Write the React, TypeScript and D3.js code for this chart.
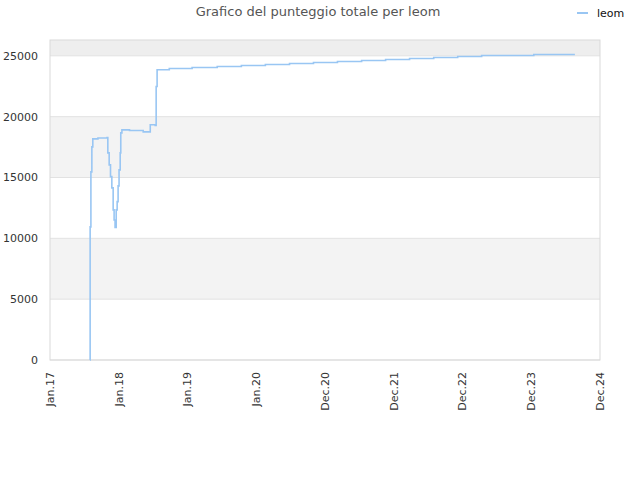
import * as d3 from "d3";

const WIDTH = 640;
const HEIGHT = 480;

const title = "Grafico del punteggio totale per leom";
const seriesName = "leom";

// tick labels of the x axis (evenly spaced between first and last date)
const tickLabels = ["Jan.17", "Jan.18", "Jan.19", "Jan.20", "Dec.20", "Dec.21", "Dec.22", "Dec.23", "Dec.24"];
const yTicks = [0, 5000, 10000, 15000, 20000, 25000];

// score history
const dates = [
  "2017-07-30", "2017-07-31", "2017-08-04", "2017-08-09", "2017-08-14", "2017-09-10",
  "2017-10-28", "2017-11-01", "2017-11-08", "2017-11-15", "2017-11-22", "2017-11-29",
  "2017-12-04", "2017-12-09", "2017-12-15", "2017-12-20", "2017-12-25", "2017-12-30",
  "2018-01-05", "2018-01-08", "2018-01-14", "2018-02-23", "2018-05-06", "2018-06-12",
  "2018-07-08", "2018-07-13", "2018-07-18", "2018-09-20", "2019-01-18", "2019-05-30",
  "2019-10-04", "2020-02-07", "2020-06-13", "2020-10-17", "2021-02-20", "2021-06-27",
  "2021-10-31", "2022-03-06", "2022-07-11", "2022-11-14", "2023-03-20", "2023-12-19",
  "2024-07-22",
];
const scores = [
  0, 10940, 15460, 17520, 18170, 18250,
  18280, 17020, 16040, 15070, 14150, 12340,
  11510, 10900, 12340, 13020, 14310, 15630,
  17020, 18670, 18910, 18860, 18750, 19330,
  19280, 22480, 23850, 23960, 24040, 24120,
  24205, 24290, 24370, 24450, 24535, 24615,
  24700, 24780, 24865, 24945, 25030, 25110,
  25110,
];

const data = dates.map((d, i) => ({ date: new Date(d), value: scores[i] }));

const margin = { top: 40, right: 40, bottom: 120, left: 50 };
const width = WIDTH - margin.left - margin.right;
const height = HEIGHT - margin.top - margin.bottom;

const start = new Date("2017-01-01");
const end = new Date("2024-12-01");

function createD3(el: HTMLDivElement | null) {
  if (!el) return;
  d3.select(el).selectAll("*").remove();

  const x = d3.scaleTime().domain([start, end]).range([0, width]);
  const y = d3.scaleLinear().domain([0, 26300]).range([height, 0]);

  const tickDates = tickLabels.map((_, i) =>
    new Date(+start + ((+end - +start) * i) / (tickLabels.length - 1))
  );

  const root = d3
    .select(el)
    .append("svg")
    .attr("width", WIDTH)
    .attr("height", HEIGHT)
    .style("display", "block")
    .style("font-family", "'DejaVu Sans', sans-serif");

  const svg = root
    .append("g")
    .attr("transform", "translate(" + margin.left + "," + margin.top + ")");

  // alternating bands
  const bands = [...yTicks, y.domain()[1]];
  for (let i = 0; i < bands.length - 1; i++) {
    if (i % 2 === 0) continue;
    svg
      .append("rect")
      .attr("x", 0)
      .attr("width", width)
      .attr("y", y(bands[i + 1]))
      .attr("height", y(bands[i]) - y(bands[i + 1]))
      .attr("fill", i === bands.length - 2 ? "#eeeeee" : "#f3f3f3");
  }

  // grid lines
  svg
    .selectAll(".grid")
    .data(yTicks)
    .join("line")
    .attr("x1", 0)
    .attr("x2", width)
    .attr("y1", (d) => y(d))
    .attr("y2", (d) => y(d))
    .attr("stroke", "#e2e2e2");

  // frame
  svg
    .append("rect")
    .attr("width", width)
    .attr("height", height)
    .attr("fill", "none")
    .attr("stroke", "#d9d9d9");

  // y labels
  svg
    .selectAll(".ylab")
    .data(yTicks)
    .join("text")
    .attr("x", -12)
    .attr("y", (d) => y(d))
    .attr("dy", "0.35em")
    .attr("text-anchor", "end")
    .attr("font-size", 11)
    .attr("fill", "#333")
    .text((d) => d);

  // x labels
  svg
    .selectAll(".xlab")
    .data(tickDates)
    .join("text")
    .attr("transform", (d) => "translate(" + x(d) + "," + (height + 12) + ") rotate(-90)")
    .attr("dy", "0.35em")
    .attr("text-anchor", "end")
    .attr("font-size", 11)
    .attr("fill", "#333")
    .text((_, i) => tickLabels[i]);

  const line = d3
    .line<{ date: Date; value: number }>()
    .x((d) => x(d.date))
    .y((d) => y(d.value))
    .curve(d3.curveStepAfter);

  svg
    .append("path")
    .datum(data)
    .attr("d", line)
    .attr("fill", "none")
    .attr("stroke", "#99c6f3")
    .attr("stroke-width", 1.6);

  // title
  root
    .append("text")
    .attr("x", 318)
    .attr("y", 16)
    .attr("text-anchor", "middle")
    .attr("font-size", 13)
    .attr("fill", "#555")
    .text(title);

  // legend
  root
    .append("line")
    .attr("x1", 577)
    .attr("x2", 588)
    .attr("y1", 13)
    .attr("y2", 13)
    .attr("stroke", "#99c6f3")
    .attr("stroke-width", 2);
  root
    .append("text")
    .attr("x", 597)
    .attr("y", 13)
    .attr("dy", "0.35em")
    .attr("font-size", 11)
    .attr("fill", "#111")
    .text(seriesName);
}

export default function App() {
  return <div ref={createD3} style={{ position: "absolute", left: 0, top: 0 }} />;
}
